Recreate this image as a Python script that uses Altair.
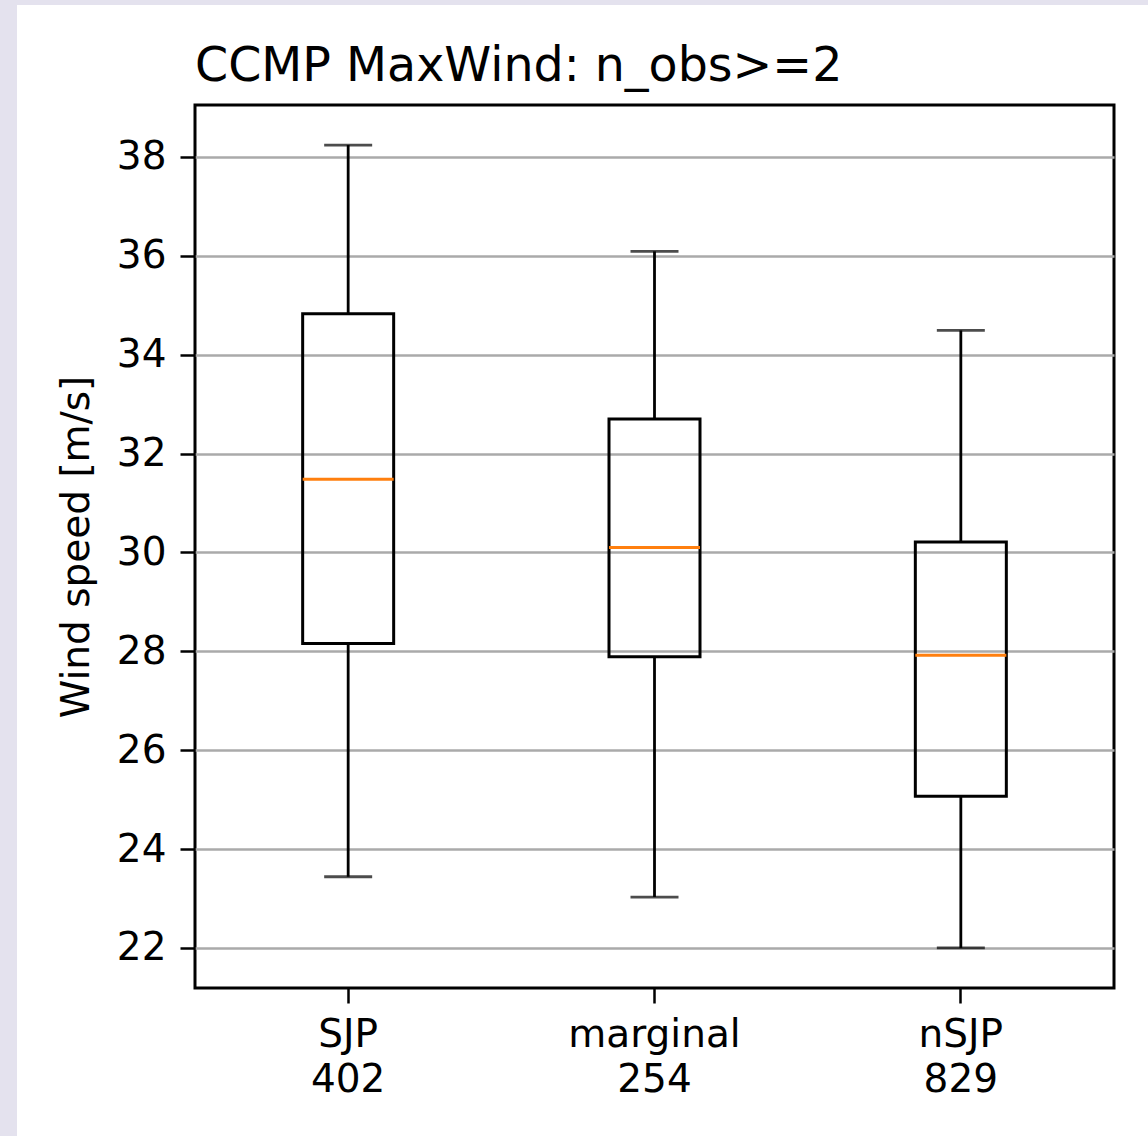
import altair as alt
import pandas as pd

categories = ["SJP", "marginal", "nSJP"]
counts = ["402", "254", "829"]
whisker_low = [23.44, 23.03, 22.00]
q1 = [28.16, 27.89, 25.07]
median = [31.48, 30.10, 27.92]
q3 = [34.83, 32.70, 30.21]
whisker_high = [38.24, 36.09, 34.49]
y_ticks = [22, 24, 26, 28, 30, 32, 34, 36, 38]

df = pd.DataFrame({
    "cat": [f"{c}|{n}" for c, n in zip(categories, counts)],
    "lo": whisker_low, "q1": q1, "med": median, "q3": q3, "hi": whisker_high,
})
order = list(df["cat"])

W, H = 919, 883
FONT = "DejaVu Sans"
FS = 39

x = alt.X("cat:N", sort=order,
          scale=alt.Scale(paddingInner=0, paddingOuter=0),
          axis=alt.Axis(title=None, labelAngle=0, grid=False, domain=False,
                        labelExpr="split(datum.label, '|')",
                        labelFontSize=FS, labelFont=FONT, labelColor="black",
                        labelLineHeight=45, labelPadding=12,
                        tickSize=15, tickWidth=2.5, tickColor="black"))
yscale = alt.Scale(domain=[21.19, 39.05], nice=False, zero=False)
y_axis = alt.Axis(title="Wind speed [m/s]", values=y_ticks, grid=True,
                  gridColor="#aaaaaa", gridWidth=2.5, domain=False,
                  tickSize=15, tickWidth=2.5, tickColor="black",
                  labelFontSize=FS, labelFont=FONT, labelColor="black",
                  labelPadding=14, titleFontSize=FS, titleFont=FONT,
                  titleFontWeight="normal", titleColor="black", titlePadding=20)

base = alt.Chart(df)
one = alt.Data(values=[{"k": 1}])

strip_left = alt.Chart(one).mark_rect(color="#e4e2ee", clip=False).encode(
    x=alt.value(-195), x2=alt.value(-178), y=alt.value(-105), y2=alt.value(1031))
strip_top = alt.Chart(one).mark_rect(color="#e4e2ee", clip=False).encode(
    x=alt.value(-195), x2=alt.value(953), y=alt.value(-105), y2=alt.value(-100))

whisk_lo = base.mark_rule(color="black", strokeWidth=2.8).encode(
    x=x, y=alt.Y("lo:Q", scale=yscale, axis=y_axis), y2="q1:Q")
whisk_hi = base.mark_rule(color="black", strokeWidth=2.8).encode(
    x=x, y=alt.Y("q3:Q"), y2="hi:Q")
cap_lo = base.mark_tick(color="black", size=48, thickness=2.8).encode(
    x=x, y=alt.Y("lo:Q"))
cap_hi = base.mark_tick(color="black", size=48, thickness=2.8).encode(
    x=x, y=alt.Y("hi:Q"))
box = base.mark_bar(size=91, fill="white", fillOpacity=0, stroke="black",
                    strokeWidth=3).encode(
    x=x, y=alt.Y("q1:Q"), y2="q3:Q")
med = base.mark_tick(color="#ff7f0e", size=91, thickness=3, opacity=1).encode(
    x=x, y=alt.Y("med:Q"))

chart = alt.layer(strip_left, strip_top, whisk_lo, whisk_hi, cap_lo, cap_hi, box, med).properties(
    width=W, height=H,
    title=alt.TitleParams("CCMP MaxWind: n_obs>=2", anchor="start", frame="group",
                          font=FONT, fontSize=47.5, fontWeight="normal",
                          color="black", baseline="bottom", offset=12, dy=150),
    autosize=alt.AutoSizeParams(type="none"),
    padding={"left": 195, "top": 105, "right": 34, "bottom": 148},
    background="white",
).configure_view(stroke="black", strokeWidth=3)

chart.save("out.html", embed_options={"renderer": "svg", "actions": False})
